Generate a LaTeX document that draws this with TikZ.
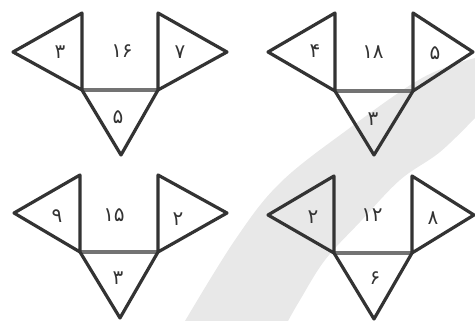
\documentclass[tikz,border=0pt]{standalone}
\usepackage{fontspec}
\newfontfamily\fafont[Script=Arabic]{DejaVu Sans}
\begin{document}
\begin{tikzpicture}[x=1pt,y=-1pt,
  edge/.style={line width=3.2pt,draw=black!80,line join=round,line cap=round},
  base/.style={line width=3.2pt,draw=black!55,line cap=round},
  num/.style={font=\fafont\fontsize{20}{20}\selectfont,text=black!80,inner sep=0pt}]
\useasboundingbox (0,0) rectangle (475,321);
% background band
\fill[black!9] plot[smooth,tension=0.6] coordinates {(185,321) (235,240) (280,183) (347,130) (422,78) (475,58)}
  -- (475,118)
  -- plot[smooth,tension=0.6] coordinates {(475,118) (440,152) (400,180) (360,222) (325,260) (300,300) (288,321)}
  -- cycle;
% figure 1
\coordinate (a1) at (82,13); \coordinate (b1) at (82,90); \coordinate (c1) at (158,90); \coordinate (d1) at (158,13);
\coordinate (l1) at (13,52); \coordinate (r1) at (227,52); \coordinate (t1) at (121,155);
\draw[base] (b1) -- (c1);
\draw[edge] (a1) -- (l1) -- (b1) -- cycle (d1) -- (r1) -- (c1) -- cycle (b1) -- (t1) -- (c1);
\node[num] (n1a) at (60,52) {۳};
\node[num] (n1b) at (122,51) {۱۶};
\node[num] (n1c) at (180,52) {۷};
\node[num] (n1d) at (118,117) {۵};
% figure 2
\coordinate (a2) at (335,13); \coordinate (b2) at (335,91); \coordinate (c2) at (413,91); \coordinate (d2) at (413,13);
\coordinate (l2) at (268,52); \coordinate (r2) at (473,52); \coordinate (t2) at (374,155);
\draw[base] (b2) -- (c2);
\draw[edge] (a2) -- (l2) -- (b2) -- cycle (d2) -- (r2) -- (c2) -- cycle (b2) -- (t2) -- (c2);
\node[num] (n2a) at (315,51) {۴};
\node[num] (n2b) at (373,52) {۱۸};
\node[num] (n2c) at (435,53) {۵};
\node[num] (n2d) at (373,119) {۳};
% figure 3
\coordinate (a3) at (80,175); \coordinate (b3) at (80,252); \coordinate (c3) at (158,252); \coordinate (d3) at (158,175);
\coordinate (l3) at (14,213); \coordinate (r3) at (227,213); \coordinate (t3) at (120,318);
\draw[base] (b3) -- (c3);
\draw[edge] (a3) -- (l3) -- (b3) -- cycle (d3) -- (r3) -- (c3) -- cycle (b3) -- (t3) -- (c3);
\node[num] (n3a) at (57,216) {۹};
\node[num] (n3b) at (114,215) {۱۵};
\node[num] (n3c) at (178,219) {۲};
\node[num] (n3d) at (118,278) {۳};
% figure 4
\coordinate (a4) at (334,176); \coordinate (b4) at (334,253); \coordinate (c4) at (412,253); \coordinate (d4) at (412,176);
\coordinate (l4) at (268,215); \coordinate (r4) at (474,215); \coordinate (t4) at (374,319);
\draw[base] (b4) -- (c4);
\draw[edge] (a4) -- (l4) -- (b4) -- cycle (d4) -- (r4) -- (c4) -- cycle (b4) -- (t4) -- (c4);
\node[num] (n4a) at (313,217) {۲};
\node[num] (n4b) at (372,215) {۱۲};
\node[num] (n4c) at (433,218) {۸};
\node[num] (n4d) at (375,278) {۶};
\end{tikzpicture}
\end{document}
